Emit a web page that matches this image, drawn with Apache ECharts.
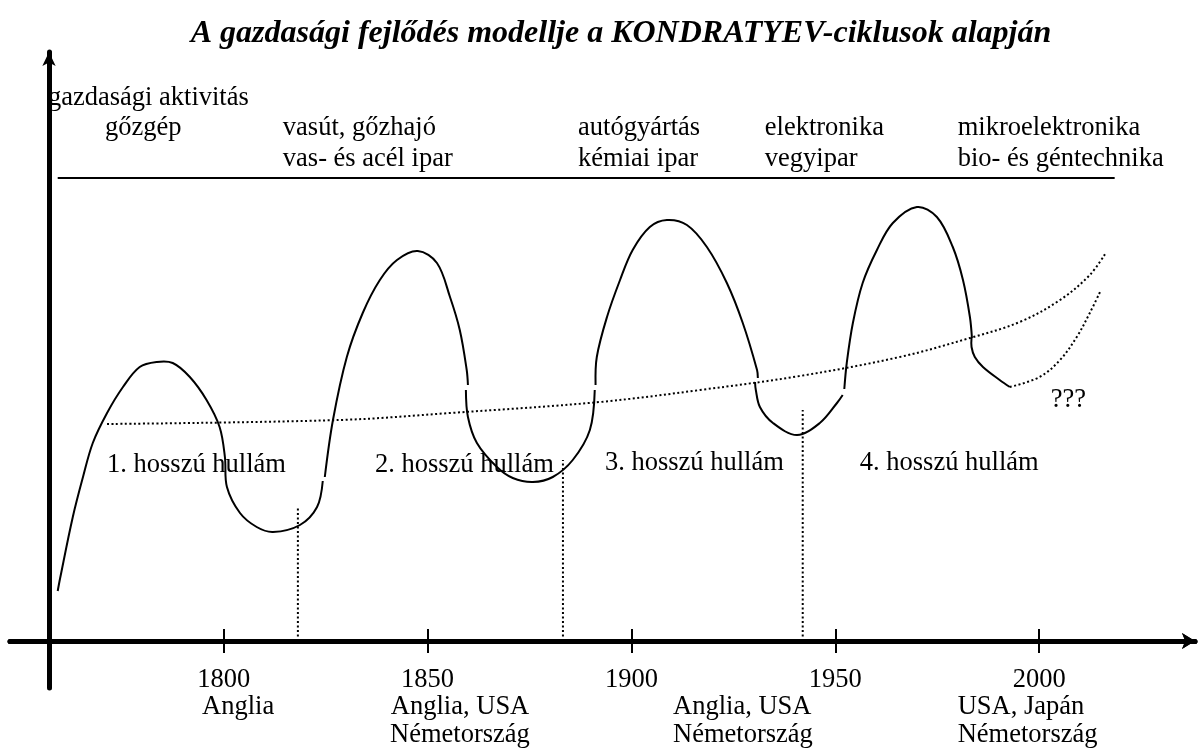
<!DOCTYPE html>
<html><head><meta charset="utf-8">
<script src="https://cdn.jsdelivr.net/npm/echarts@6/dist/echarts.min.js"></script>
<style>html,body{margin:0;padding:0;background:#fff}#c{width:1201px;height:751px}</style>
</head><body><div id="c"></div>
<script>
const titleText = 'A gazdasági fejlődés modellje a KONDRATYEV-ciklusok alapján';
const tickYears = [1800, 1850, 1900, 1950, 2000];

// solid wave segments [year, activity]
const wave1 = [[1759.3,5.0],[1759.9,6.3],[1763.0,12.4],[1765.5,16.4],[1767.9,19.8],[1771.4,22.8],[1775.3,25.4],[1779.4,27.4],[1783.6,27.9],[1787.5,27.8],[1791.7,26.4],[1795.8,24.1],[1799.0,21.4],[1800.3,18.4],[1800.8,15.4],[1804.0,12.8],[1808.1,11.4],[1812.1,10.9],[1818.7,11.6],[1822.9,13.4],[1824.3,16.0]];
const wave2Up = [[1824.8,16.4],[1826.8,22.1],[1830.2,28.4],[1834.1,32.8],[1838.3,36.1],[1842.5,38.1],[1847.6,39.0],[1852.3,37.8],[1855.5,34.4],[1857.9,31.1],[1859.6,27.1],[1859.9,25.6]];
const wave2Down = [[1859.4,25.1],[1859.9,22.4],[1862.1,19.8],[1867.0,17.4],[1870.9,16.3],[1875.8,15.9],[1880.7,16.4],[1885.6,18.1],[1889.8,21.1],[1891.0,25.1]];
const wave3Up = [[1891.2,25.6],[1891.5,28.4],[1894.0,32.4],[1897.2,36.1],[1900.3,39.1],[1904.5,41.4],[1908.7,42.1],[1913.6,41.6],[1918.5,39.4],[1923.4,35.8],[1927.3,31.8],[1930.8,27.1],[1931.0,26.3]];
const wave3Down = [[1930.3,25.9],[1930.5,25.1],[1931.5,23.4],[1934.7,21.8],[1940.6,20.6],[1946.2,21.8],[1950.4,23.8],[1951.8,24.6]];
const wave4Up = [[1952.2,25.2],[1952.8,27.8],[1954.3,31.8],[1956.7,35.8],[1960.2,39.1],[1964.1,41.8],[1970.0,43.4],[1974.9,42.4],[1978.8,39.4],[1981.3,36.1],[1983.0,32.4],[1983.5,30.3]];
const wave4Down = [[1983.4,30.3],[1983.4,29.4],[1984.2,28.4],[1986.2,27.4],[1990.3,26.1],[1992.8,25.4]];
// dotted curves
const outlook = [[1992.8,25.4],[2000.1,26.4],[2005.1,28.1],[2009.2,30.4],[2012.4,32.8],[2014.9,34.9]];
const trend = [[1771.4,21.7],[1828.5,22.1],[1855.5,22.8],[1892.3,23.9],[1916.8,25.1],[1941.3,26.5],[1965.8,28.4],[1983.0,30.3],[1995.2,31.9],[2005.1,34.1],[2012.4,36.6],[2016.3,38.8]];
// wave boundaries
const boundaryYears = [1818.2, 1883.2, 1942.0];
const boundaryTops = [13.3, 18.1, 23.1];
// header rule
const headerRule = [[1759.3,46.3],[2018.5,46.3]];
// header texts
const headerTexts = ['gazdasági aktivitás','gőzgép','vasút, gőzhajó','vas- és acél ipar','autógyártás','kémiai ipar','elektronika','vegyipar','mikroelektronika','bio- és géntechnika'];
const headerAnchors = [[1756.9,54.3],[1770.9,51.3],[1814.5,51.3],[1814.5,48.2],[1886.9,51.3],[1886.9,48.2],[1932.7,51.3],[1932.7,48.2],[1980.0,51.3],[1980.0,48.2]];
const waveNames = ['1. hosszú hullám','2. hosszú hullám','3. hosszú hullám','4. hosszú hullám','???'];
const waveAnchors = [[1771.4,17.6],[1837.1,17.6],[1893.5,17.8],[1956.0,17.8],[2002.8,24.1]];
const countryTexts = ['Anglia','Anglia, USA','Németország','Anglia, USA','Németország','USA, Japán','Németország'];
const countryAnchors = [[1794.7,-6.6],[1841.0,-6.6],[1840.8,-9.4],[1910.2,-6.6],[1910.2,-9.4],[1980.0,-6.6],[1980.0,-9.4]];

const FONT = "'Liberation Serif','Times New Roman',serif";
const FS = 26.5;
const chart = echarts.init(document.getElementById('c'), null, {renderer:'canvas'});

// smooth curve through the points, mapped by the chart's own axes
function curve(points, dotted, smooth) {
  return {type:'custom', silent:true, clip:false, z:3,
    data:[points[0]],
    renderItem:(params, api) => ({
      type:'polyline',
      shape:{points: points.map(p => api.coord(p)), smooth: smooth === undefined ? 0.35 : smooth},
      style:{stroke:'#000', lineWidth:2, fill:null, lineDash: dotted ? [2,2.5] : null}
    })};
}
function texts(arr, anchors) {
  return {type:'scatter', symbolSize:0, silent:true, clip:false, z:5,
    itemStyle:{opacity:1},
    data: arr.map((t,i)=>({name:t, value:anchors[i]})),
    label:{show:true, position:'right', distance:0, formatter:'{b}', fontFamily:FONT, fontSize:FS, color:'#000', opacity:1}};
}

const series = [
  curve(wave1), curve(wave2Up), curve(wave2Down), curve(wave3Up), curve(wave3Down), curve(wave4Up), curve(wave4Down),
  curve(outlook, true), curve(trend, true),
  curve(headerRule, false, 0),
  ...boundaryYears.map((y,i)=>curve([[y,0],[y,boundaryTops[i]]], true, 0)),
  texts(headerTexts, headerAnchors), texts(waveNames, waveAnchors), texts(countryTexts, countryAnchors)
];

const X_MIN = 1747.6, X_MAX = 2038.2, Y_MIN = -4.7, Y_MAX = 58.9;
chart.setOption({
  backgroundColor:'#fff',
  animation:false,
  title:{text:titleText, left:616, textAlign:'center', top:13,
    textStyle:{fontFamily:FONT, fontSize:32, fontWeight:'bold', fontStyle:'italic', color:'#000'}},
  grid:{left:10, right:6, top:52, bottom:63, containLabel:false},
  xAxis:[
    {type:'value', position:'bottom', min:X_MIN, max:X_MAX, splitLine:{show:false},
     axisLine:{onZero:true, lineStyle:{color:'#000', width:5}, symbol:['none','arrow'], symbolSize:[12,13]},
     axisTick:{show:true, length:12, lineStyle:{color:'#000', width:2}, customValues:tickYears},
     axisLabel:{show:true, margin:-21, customValues:tickYears, formatter:v=>String(v), fontFamily:FONT, fontSize:FS, color:'#000'}},
    {type:'value', position:'bottom', min:X_MIN, max:X_MAX, splitLine:{show:false},
     axisLine:{show:true, onZero:true, lineStyle:{color:'#000', width:5}, symbol:['none','arrow'], symbolSize:[12,13]},
     axisTick:{show:true, inside:true, length:12, lineStyle:{color:'#000', width:2}, customValues:tickYears},
     axisLabel:{show:false}}
  ],
  yAxis:[
    {type:'value', min:Y_MIN, max:Y_MAX, offset:-39, splitLine:{show:false},
     axisLine:{show:true, onZero:false, lineStyle:{color:'#000', width:5}, symbol:['none','arrow'], symbolSize:[10,14]},
     axisTick:{show:false}, axisLabel:{show:false}},
    {type:'value', min:Y_MIN, max:Y_MAX, show:false, splitLine:{show:false}}
  ],
  series
});
</script></body></html>
